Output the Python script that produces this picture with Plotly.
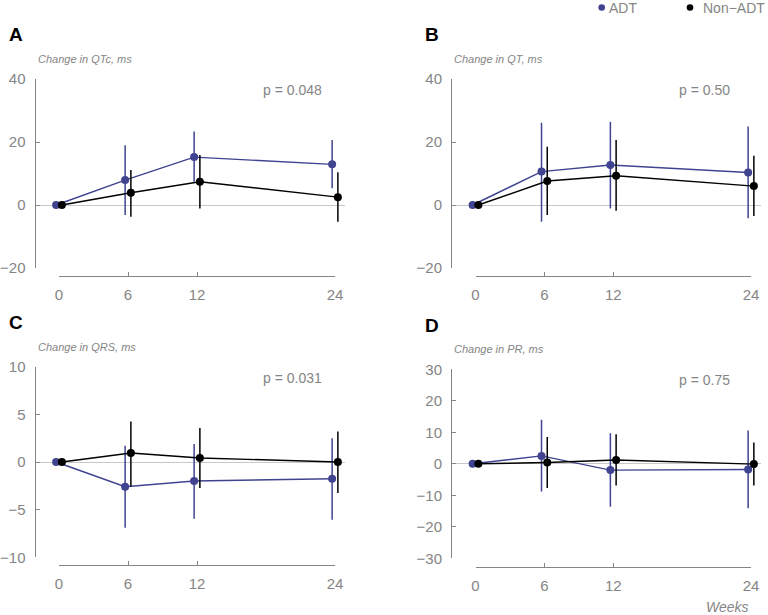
import plotly.graph_objects as go

# ---------------- data ----------------
weeks = [0, 6, 12, 24]
week_ticks = ["0", "6", "12", "24"]

qtc_adt = [0, 7.9, 15.2, 12.9]
qtc_adt_lo = [0, -3.2, 7.4, 5.3]
qtc_adt_hi = [0, 19.0, 23.3, 20.6]
qtc_non = [0, 3.9, 7.4, 2.5]
qtc_non_lo = [0, -3.7, -1.1, -5.3]
qtc_non_hi = [0, 11.1, 15.9, 10.4]

qt_adt = [0, 10.6, 12.7, 10.3]
qt_adt_lo = [0, -5.3, -1.1, -4.2]
qt_adt_hi = [0, 26.1, 26.4, 24.9]
qt_non = [0, 7.6, 9.3, 6.0]
qt_non_lo = [0, -3.2, -1.8, -3.5]
qt_non_hi = [0, 18.5, 20.6, 15.6]

qrs_adt = [0, -2.6, -2.0, -1.75]
qrs_adt_lo = [0, -6.9, -5.95, -6.05]
qrs_adt_hi = [0, 1.7, 1.9, 2.5]
qrs_non = [0, 0.94, 0.42, 0.0]
qrs_non_lo = [0, -2.56, -2.73, -3.25]
qrs_non_hi = [0, 4.26, 3.57, 3.2]

pr_adt = [0, 2.5, -2.0, -1.8]
pr_adt_lo = [0, -8.8, -13.6, -14.1]
pr_adt_hi = [0, 14.0, 9.7, 10.6]
pr_non = [0, 0.4, 1.2, -0.1]
pr_non_lo = [0, -7.7, -6.9, -6.9]
pr_non_hi = [0, 8.5, 9.4, 6.8]

panel_letters = ["A", "B", "C", "D"]
panel_titles = ["Change in QTc, ms", "Change in QT, ms", "Change in QRS, ms", "Change in PR, ms"]
p_values = ["p = 0.048", "p = 0.50", "p = 0.031", "p = 0.75"]
y_ranges = [[-20, 40], [-20, 40], [-10, 10], [-30, 30]]
y_dticks = [20, 20, 5, 10]
series_names = ["ADT", "Non\u2212ADT"]

# ---------------- style ----------------
W, H = 768, 615
C_ADT = "#3f4390"
C_NON = "#000000"
GRAY = "#858585"
FONT = "Liberation Sans, Arial, sans-serif"
DODGE = 0.25

# panel geometry in pixels: y-axis x, x=0 px, x=24 px, top px, bottom px, x-axis line px
geom = [
    dict(ax=35.5, x0=59.0, x24=335.0, top=79.0, bot=268.0, xl=276.0),
    dict(ax=452.0, x0=475.5, x24=751.0, top=79.0, bot=268.0, xl=276.0),
    dict(ax=35.5, x0=59.0, x24=335.0, top=366.7, bot=557.3, xl=565.0),
    dict(ax=452.0, x0=475.5, x24=751.0, top=369.3, bot=558.3, xl=566.7),
]

def fx(px):
    return px / W

def fy(py):
    return 1 - py / H

panels = [
    (qtc_adt, qtc_adt_lo, qtc_adt_hi, qtc_non, qtc_non_lo, qtc_non_hi),
    (qt_adt, qt_adt_lo, qt_adt_hi, qt_non, qt_non_lo, qt_non_hi),
    (qrs_adt, qrs_adt_lo, qrs_adt_hi, qrs_non, qrs_non_lo, qrs_non_hi),
    (pr_adt, pr_adt_lo, pr_adt_hi, pr_non, pr_non_lo, pr_non_hi),
]

fig = go.Figure()
layout = {}
annotations = []
shapes = []

for i, (g, data) in enumerate(zip(geom, panels)):
    k = i + 1
    kt = i + 5
    a, alo, ahi, n, nlo, nhi = data
    s = (g["x24"] - g["x0"]) / 24.0
    right = g["x24"] + 10
    xr = [(g["ax"] - g["x0"]) / s, (right - g["x0"]) / s]

    for vals, lo, hi, col, off in [(a, alo, ahi, C_ADT, -DODGE), (n, nlo, nhi, C_NON, DODGE)]:
        fig.add_trace(go.Scatter(
            x=[w + off for w in weeks], y=vals,
            mode="lines+markers",
            line=dict(color=col, width=1.4),
            marker=dict(color=col, size=8),
            error_y=dict(type="data", symmetric=False,
                         array=[h - v for h, v in zip(hi, vals)],
                         arrayminus=[v - l for v, l in zip(vals, lo)],
                         color=col, thickness=1.5, width=0),
            xaxis=f"x{k}", yaxis=f"y{k}", showlegend=False, hoverinfo="skip",
        ))

    layout[f"xaxis{k}"] = dict(domain=[fx(g["ax"]), fx(right)], range=xr, anchor=f"y{k}",
                               showline=False, showticklabels=False, ticks="",
                               showgrid=False, zeroline=False)
    layout[f"yaxis{k}"] = dict(domain=[fy(g["bot"]), fy(g["top"])], range=y_ranges[i],
                               anchor=f"x{k}", dtick=y_dticks[i], tick0=0,
                               showline=True, linecolor=GRAY, linewidth=1,
                               ticks="inside", ticklen=4, tickcolor=GRAY, tickwidth=1,
                               showgrid=False, zeroline=True, zerolinecolor="#c8c8c8",
                               zerolinewidth=1, automargin=False,
                               tickfont=dict(family=FONT, size=15, color=GRAY),
                               ticklabelstandoff=6)

    # separate week axis (offset below panel, spanning 0..24)
    fig.add_trace(go.Scatter(x=[None], y=[None], xaxis=f"x{kt}", yaxis=f"y{kt}",
                             showlegend=False, hoverinfo="skip"))
    layout[f"xaxis{kt}"] = dict(domain=[fx(g["x0"]), fx(g["x24"])], range=[0, 24],
                                anchor=f"y{kt}", tickvals=weeks, ticktext=week_ticks,
                                showline=True, linecolor=GRAY, linewidth=1,
                                ticks="inside", ticklen=4, tickcolor=GRAY, tickwidth=1,
                                showgrid=False, zeroline=False, automargin=False,
                                tickfont=dict(family=FONT, size=15, color=GRAY),
                                ticklabelstandoff=5)
    layout[f"yaxis{kt}"] = dict(domain=[fy(g["xl"]), fy(g["xl"]) + 0.01], anchor=f"x{kt}",
                                range=[0, 1], showline=False, showticklabels=False,
                                ticks="", showgrid=False, zeroline=False)

    # panel letter
    annotations.append(dict(text=f"<b>{panel_letters[i]}</b>", xref="paper", yref="paper",
                            x=fx(g["ax"] - 29), y=fy(g["top"] - 44), xanchor="left",
                            yanchor="middle", showarrow=False,
                            font=dict(family=FONT, size=19, color="black")))
    # subtitle
    annotations.append(dict(text=f"<i>{panel_titles[i]}</i>", xref="paper", yref="paper",
                            x=fx(g["ax"]), y=fy(g["top"] - 20), xanchor="left",
                            yanchor="middle", showarrow=False,
                            font=dict(family=FONT, size=11, color=GRAY)))
    # p value
    annotations.append(dict(text=p_values[i], xref="paper", yref="paper",
                            x=fx(g["ax"] + 225), y=fy(g["top"] + 11), xanchor="left",
                            yanchor="middle", showarrow=False,
                            font=dict(family=FONT, size=14, color=GRAY)))

annotations.append(dict(text="<i>Weeks</i>", xref="paper", yref="paper",
                        x=fx(727), y=fy(607), xanchor="center", yanchor="middle",
                        showarrow=False, font=dict(family=FONT, size=14, color=GRAY)))

# legend keys (marker + label)
LEG_Y = 7.5
legend_pos = [(601.7, 607.0), (690.0, 701.0)]
for name, col, (mx, tx) in zip(series_names, [C_ADT, C_NON], legend_pos):
    r = 3.3
    shapes.append(dict(type="circle", xref="paper", yref="paper",
                       x0=fx(mx - r), x1=fx(mx + r), y0=fy(LEG_Y + r), y1=fy(LEG_Y - r),
                       fillcolor=col, line=dict(width=0)))
    annotations.append(dict(text=name, xref="paper", yref="paper", x=fx(tx), y=fy(LEG_Y),
                            xanchor="left", yanchor="middle", showarrow=False,
                            font=dict(family=FONT, size=14, color=GRAY)))

fig.update_layout(
    width=W, height=H,
    margin=dict(l=0, r=0, t=0, b=0, autoexpand=False),
    paper_bgcolor="white", plot_bgcolor="white",
    annotations=annotations,
    shapes=shapes,
    showlegend=False,
    **layout,
)

fig.write_html("out.html",
               config={"displayModeBar": False},
               post_script="document.body.style.margin='0px';document.body.style.overflow='hidden';")
